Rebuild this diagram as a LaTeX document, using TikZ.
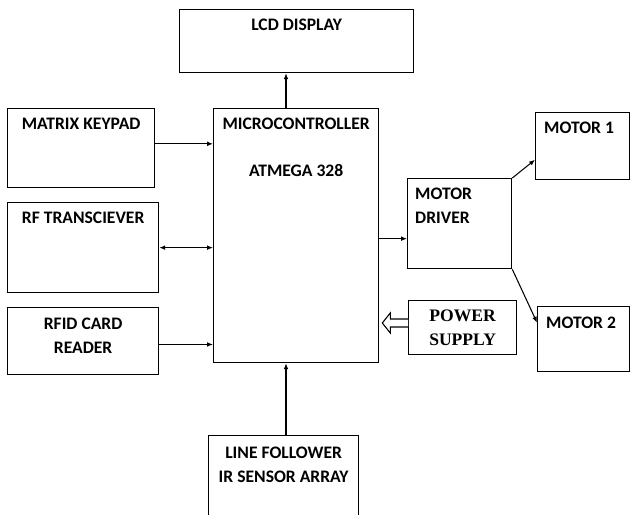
\documentclass[tikz,border=0pt]{standalone}
\usepackage{fontspec}
\setmainfont{Carlito}
\newfontfamily\serifbold{Liberation Serif}
\usetikzlibrary{arrows.meta,calc}

\tikzset{
  blk/.style={draw, line width=1.1pt, inner sep=0pt, anchor=north west},
  ttl/.style={anchor=north, inner sep=0pt, align=center,
    font=\bfseries\fontsize{15}{20.4}\selectfont},
  lttl/.style={anchor=north west, inner sep=0pt, align=left,
    font=\bfseries\fontsize{15}{20.4}\selectfont},
  link/.style={-{Latex[length=5pt,width=4pt]}, line width=0.9pt},
}

\begin{document}
\begin{tikzpicture}[x=0.03cm, y=-0.03cm]
  \clip (0,0) rectangle (630,515);
  \fill[white] (0,0) rectangle (630,515);

  % blocks
  \node[blk, minimum width=7.02cm, minimum height=1.89cm,
    label={[ttl, yshift=-0.3cm]north:LCD DISPLAY}] (lcd) at (179,9) {};
  \node[blk, minimum width=4.41cm, minimum height=2.37cm,
    label={[ttl, yshift=-0.3cm]north:MATRIX KEYPAD}] (keypad) at (7,108) {};
  \node[blk, minimum width=4.95cm, minimum height=7.62cm,
    label={[ttl, yshift=-0.3cm]north:MICROCONTROLLER\\[0.7cm]ATMEGA 328}] (mcu) at (213,108) {};
  \node[blk, minimum width=4.53cm, minimum height=2.7cm,
    label={[ttl, yshift=-0.3cm]north:RF TRANSCIEVER}] (rf) at (7,202) {};
  \node[blk, minimum width=4.53cm, minimum height=2.01cm,
    label={[ttl, yshift=-0.33cm]north:RFID CARD\\READER}] (rfid) at (7,307) {};
  \node[blk, minimum width=3.12cm, minimum height=2.7cm,
    label={[lttl, xshift=0.24cm, yshift=-0.3cm]north west:MOTOR\\DRIVER}] (md) at (407,178) {};
  \node[blk, minimum width=2.82cm, minimum height=2.01cm,
    label={[lttl, xshift=0.27cm, yshift=-0.3cm]north west:MOTOR 1}] (m1) at (535,112) {};
  \node[blk, minimum width=2.76cm, minimum height=1.95cm,
    label={[lttl, xshift=0.27cm, yshift=-0.33cm]north west:MOTOR 2}] (m2) at (537,306) {};
  \node[blk, minimum width=3.24cm, minimum height=1.62cm,
    label={[ttl, yshift=-0.3cm, font=\serifbold\bfseries\fontsize{15}{20.4}\selectfont]north:POWER\\SUPPLY}] (ps) at (408,300) {};
  \node[blk, minimum width=4.5cm, minimum height=3cm,
    label={[ttl, yshift=-0.36cm]north:LINE FOLLOWER\\IR SENSOR ARRAY}] (ir) at (208,435) {};

  \coordinate (axis) at (286,0);

  % connections
  \draw[link] (mcu.north -| axis) -- (lcd.south -| axis);
  \draw[link] (ir.north -| axis) -- (mcu.south -| axis);
  \draw[link] ([yshift=0.13cm]keypad.east) -- ([yshift=0.13cm]keypad.east -| mcu.west);
  \draw[link, {Latex[length=5pt,width=4pt]}-{Latex[length=5pt,width=4pt]}] (rf.east) -- (rf.east -| mcu.west);
  \draw[link] ([yshift=-0.1cm]rfid.east) -- ([yshift=-0.1cm]rfid.east -| mcu.west);
  \draw[link] ([yshift=-0.45cm]md.west -| mcu.east) -- ([yshift=-0.45cm]md.west);
  \draw[link] (md.north east) -- ($(m1.south west)!.3!(m1.north west)$);
  \draw[link] (md.south east) -- ($(m2.north west)!.25!(m2.south west)$);

  % hollow power arrow
  \coordinate (psout) at ([yshift=0.14cm]ps.west);
  \coordinate (mcuin) at ([xshift=0.09cm]psout -| mcu.east);
  \draw[line width=0.9pt, line join=miter, fill=white]
    ($(psout)+(0,-4)$) -- ($(mcuin)+(8,-4)$) -- ($(mcuin)+(8,-10)$) -- (mcuin)
    -- ($(mcuin)+(8,10)$) -- ($(mcuin)+(8,4)$) -- ($(psout)+(0,4)$);
\end{tikzpicture}
\end{document}
